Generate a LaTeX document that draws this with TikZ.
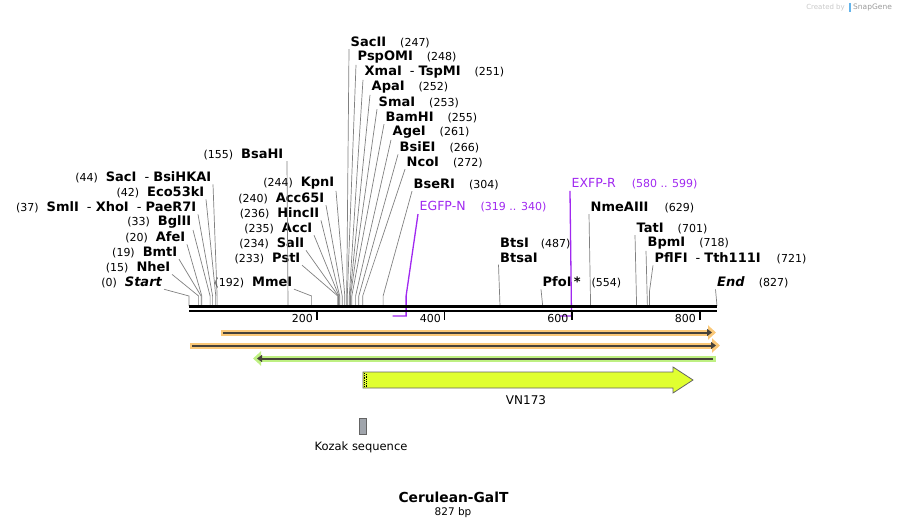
\documentclass[tikz,border=0pt]{standalone}
\usepackage{fontspec}
\setmainfont{DejaVu Sans}
\usetikzlibrary{arrows.meta}

\definecolor{leadgray}{RGB}{128,128,128}
\definecolor{primerpurple}{RGB}{160,40,240}
\definecolor{haloorange}{RGB}{250,200,120}
\definecolor{halogreen}{RGB}{190,240,130}
\definecolor{featdark}{RGB}{70,66,58}
\definecolor{vnyellow}{RGB}{224,255,48}
\definecolor{vnedge}{RGB}{100,100,100}
\definecolor{kozakgray}{RGB}{160,165,172}
\definecolor{creditgray}{RGB}{200,200,200}
\definecolor{creditblue}{RGB}{100,180,235}

\newcommand{\numsz}{\fontsize{11}{13}\selectfont}
\newcommand{\labsz}{\fontsize{13}{15}\selectfont}

\tikzset{
  enzl/.style={anchor=east, inner sep=1.5pt, font=\labsz},
  enzr/.style={anchor=west, inner sep=1.5pt, font=\labsz},
  lead/.style={draw=leadgray, line width=0.7pt},
  primer/.style={draw=primerpurple, line width=1.3pt},
  primtxt/.style={anchor=west, inner sep=1.5pt, font=\fontsize{12.5}{15}\selectfont, text=primerpurple},
}

\begin{document}
\begin{tikzpicture}[x=1pt,y=-1pt]
\useasboundingbox (0,0) rectangle (907,529);

% siti sulla barra
\coordinate (s0) at (189.0,306);
\coordinate (s15) at (198.6,306);
\coordinate (s19) at (201.1,306);
\coordinate (s20) at (201.8,306);
\coordinate (s33) at (210.1,306);
\coordinate (s37) at (212.6,306);
\coordinate (s42) at (215.8,306);
\coordinate (s44) at (217.1,306);
\coordinate (s155) at (288.0,306);
\coordinate (s192) at (311.6,306);
\coordinate (s233) at (337.8,306);
\coordinate (s234) at (338.4,306);
\coordinate (s235) at (339.0,306);
\coordinate (s236) at (339.7,306);
\coordinate (s240) at (342.2,306);
\coordinate (s244) at (344.8,306);
\coordinate (s247) at (346.7,306);
\coordinate (s248) at (347.3,306);
\coordinate (s251) at (349.3,306);
\coordinate (s252) at (349.9,306);
\coordinate (s253) at (350.5,306);
\coordinate (s255) at (351.8,306);
\coordinate (s261) at (355.6,306);
\coordinate (s266) at (358.8,306);
\coordinate (s272) at (362.7,306);
\coordinate (s304) at (383.1,306);
\coordinate (s487) at (500.0,306);
\coordinate (s554) at (542.7,306);
\coordinate (s629) at (590.6,306);
\coordinate (s701) at (636.6,306);
\coordinate (s718) at (647.4,306);
\coordinate (s721) at (649.4,306);
\coordinate (s827) at (717.0,306);
% primer
\coordinate (p319) at (392.7,316);
\coordinate (p340) at (406.1,316);
\coordinate (p580) at (559.3,316);
\coordinate (p599) at (571.5,316);

% etichette a sinistra
\node[enzl] (start) at (164,282) {{\numsz(0)}\hspace{8pt}\textbf{\textit{Start}}};
\node[enzl] (nhei) at (172,267) {{\numsz(15)}\hspace{8pt}\textbf{NheI}};
\node[enzl] (bmti) at (179,252) {{\numsz(19)}\hspace{8pt}\textbf{BmtI}};
\node[enzl] (afei) at (187,237) {{\numsz(20)}\hspace{8pt}\textbf{AfeI}};
\node[enzl] (bglii) at (193,222) {{\numsz(33)}\hspace{8pt}\textbf{BglII}};
\node[enzl] (smli) at (198,207) {{\numsz(37)}\hspace{8pt}\textbf{SmlI}\hspace{8pt}- \textbf{XhoI}\hspace{8pt}- \textbf{PaeR7I}};
\node[enzl] (eco53ki) at (206,192) {{\numsz(42)}\hspace{8pt}\textbf{Eco53kI}};
\node[enzl] (saci) at (213,177) {{\numsz(44)}\hspace{8pt}\textbf{SacI}\hspace{8pt}- \textbf{BsiHKAI}};
\node[enzl] (bsahi) at (285,154) {{\numsz(155)}\hspace{8pt}\textbf{BsaHI}};
\node[enzl] (mmei) at (294,282) {{\numsz(192)}\hspace{8pt}\textbf{MmeI}};
\node[enzl] (psti) at (302,258) {{\numsz(233)}\hspace{8pt}\textbf{PstI}};
\node[enzl] (sali) at (306,243) {{\numsz(234)}\hspace{8pt}\textbf{SalI}};
\node[enzl] (acci) at (314,228) {{\numsz(235)}\hspace{8pt}\textbf{AccI}};
\node[enzl] (hincii) at (321,213) {{\numsz(236)}\hspace{8pt}\textbf{HincII}};
\node[enzl] (acc65i) at (326,198) {{\numsz(240)}\hspace{8pt}\textbf{Acc65I}};
\node[enzl] (kpni) at (336,183) {{\numsz(244)}\hspace{8pt}\textbf{KpnI}};

% etichette a destra
\node[enzr] (sacii) at (349,42) {\textbf{SacII}\hspace{14pt}{\numsz(247)}};
\node[enzr] (pspomi) at (356,57) {\textbf{PspOMI}\hspace{14pt}{\numsz(248)}};
\node[enzr] (xmai) at (363,72) {\textbf{XmaI}\hspace{8pt}- \textbf{TspMI}\hspace{14pt}{\numsz(251)}};
\node[enzr] (apai) at (370,87) {\textbf{ApaI}\hspace{14pt}{\numsz(252)}};
\node[enzr] (smai) at (377,102) {\textbf{SmaI}\hspace{14pt}{\numsz(253)}};
\node[enzr] (bamhi) at (384,117) {\textbf{BamHI}\hspace{14pt}{\numsz(255)}};
\node[enzr] (agei) at (391,132) {\textbf{AgeI}\hspace{14pt}{\numsz(261)}};
\node[enzr] (bsiei) at (398,147) {\textbf{BsiEI}\hspace{14pt}{\numsz(266)}};
\node[enzr] (ncoi) at (405,162) {\textbf{NcoI}\hspace{14pt}{\numsz(272)}};
\node[enzr] (bseri) at (412,184) {\textbf{BseRI}\hspace{14pt}{\numsz(304)}};
\node[enzr] (btsi) at (498.5,243) {\textbf{BtsI}\hspace{12pt}{\numsz(487)}};
\node[enzr] (btsai) at (498.5,258) {\textbf{BtsaI}};
\node[enzr] (pfoi) at (541,282) {\textbf{PfoI\,*}\hspace{11pt}{\numsz(554)}};
\node[enzr] (nmeaiii) at (589,207) {\textbf{NmeAIII}\hspace{16pt}{\numsz(629)}};
\node[enzr] (tati) at (635,228) {\textbf{TatI}\hspace{14pt}{\numsz(701)}};
\node[enzr] (bpmi) at (646,243) {\textbf{BpmI}\hspace{14pt}{\numsz(718)}};
\node[enzr] (pflfi) at (653,258) {\textbf{PflFI}\hspace{8pt}- \textbf{Tth111I}\hspace{16pt}{\numsz(721)}};
\node[enzr] (endl) at (715.5,282) {\textbf{\textit{End}}\hspace{14pt}{\numsz(827)}};

% primer
\node[primtxt] (egfpn) at (418,207) {EGFP-N\hspace{15pt}{\numsz(319 .. 340)}};
\node[primtxt] (exfpr) at (570,184) {EXFP-R\hspace{16pt}{\numsz(580 .. 599)}};

% linee
\draw[lead] (start.south east) -- ([yshift=10pt]s0) -- (s0);
\draw[lead] (nhei.south east) -- ([yshift=10pt]s15) -- (s15);
\draw[lead] (bmti.south east) -- ([yshift=10pt]s19) -- (s19);
\draw[lead] (afei.south east) -- ([yshift=10pt]s20) -- (s20);
\draw[lead] (bglii.south east) -- ([yshift=10pt]s33) -- (s33);
\draw[lead] (smli.south east) -- ([yshift=10pt]s37) -- (s37);
\draw[lead] (eco53ki.south east) -- ([yshift=10pt]s42) -- (s42);
\draw[lead] (saci.south east) -- ([yshift=10pt]s44) -- (s44);
\draw[lead] ([xshift=2pt]bsahi.south east) -- (s155);
\draw[lead] (mmei.south east) -- ([yshift=10pt]s192) -- (s192);
\draw[lead] (psti.south east) -- ([yshift=10pt]s233) -- (s233);
\draw[lead] (sali.south east) -- ([yshift=10pt]s234) -- (s234);
\draw[lead] (acci.south east) -- ([yshift=10pt]s235) -- (s235);
\draw[lead] (hincii.south east) -- ([yshift=10pt]s236) -- (s236);
\draw[lead] (acc65i.south east) -- ([yshift=10pt]s240) -- (s240);
\draw[lead] (kpni.south east) -- ([yshift=10pt]s244) -- (s244);
\draw[lead] (sacii.south west) -- ([yshift=10pt]s247) -- (s247);
\draw[lead] (pspomi.south west) -- ([yshift=10pt]s248) -- (s248);
\draw[lead] (xmai.south west) -- ([yshift=10pt]s251) -- (s251);
\draw[lead] (apai.south west) -- ([yshift=10pt]s252) -- (s252);
\draw[lead] (smai.south west) -- ([yshift=10pt]s253) -- (s253);
\draw[lead] (bamhi.south west) -- ([yshift=10pt]s255) -- (s255);
\draw[lead] (agei.south west) -- ([yshift=10pt]s261) -- (s261);
\draw[lead] (bsiei.south west) -- ([yshift=10pt]s266) -- (s266);
\draw[lead] (ncoi.south west) -- ([yshift=10pt]s272) -- (s272);
\draw[lead] (bseri.south west) -- ([yshift=10pt]s304) -- (s304);
\draw[lead] (btsai.south west) -- (s487);
\draw[lead] (pfoi.south west) -- (s554);
\draw[lead] (nmeaiii.south west) -- (s629);
\draw[lead] (tati.south west) -- (s701);
\draw[lead] (bpmi.south west) -- (s718);
\draw[lead] (pflfi.south west) -- ([yshift=14pt]s721) -- (s721);
\draw[lead] (endl.south west) -- (s827);

\draw[primer] (egfpn.south west) -- ([yshift=20pt]p340) -- (p340) -- (p319);
\draw[primer] (exfpr.south west) -- (p599) -- (p580);

% barra
\draw[line width=2.6pt] (189,306.5) -- (717,306.5);
\draw[line width=2pt] (189,311) -- (717,311);

% tacche
\draw[line width=1.8pt] (316.7,311) -- (316.7,320);
\draw[line width=1.8pt] (444.4,311) -- (444.4,320);
\draw[line width=1.8pt] (572.1,311) -- (572.1,320);
\draw[line width=1.8pt] (699.8,311) -- (699.8,320);
\node[anchor=east, inner sep=1pt, font=\numsz] (t200) at (314,318) {200};
\node[anchor=east, inner sep=1pt, font=\numsz] (t400) at (442,318) {400};
\node[anchor=east, inner sep=1pt, font=\numsz] (t600) at (569.5,318) {600};
\node[anchor=east, inner sep=1pt, font=\numsz] (t800) at (697,318) {800};

% frecce
\draw[haloorange, line width=6pt, -{Triangle[length=8pt, width=14pt]}] (221,332.5) -- (716,332.5);
\draw[featdark, line width=2pt, -{Triangle[length=5pt, width=7pt]}] (223,332.5) -- (712,332.5);
\draw[haloorange, line width=6pt, -{Triangle[length=8pt, width=14pt]}] (190,345.5) -- (720,345.5);
\draw[featdark, line width=2pt, -{Triangle[length=5pt, width=7pt]}] (192,345.5) -- (716,345.5);
\draw[halogreen, line width=6pt, {Triangle[length=8pt, width=14pt]}-] (253,358.5) -- (716,358.5);
\draw[featdark, line width=2pt, {Triangle[length=5pt, width=7pt]}-] (257,358.5) -- (713,358.5);

% VN173
\draw[draw=vnedge, fill=vnyellow, line width=0.8pt] (363,372) -- (673,372) -- (673,367) -- (693,380) -- (673,393) -- (673,388) -- (363,388) -- cycle;
\draw[densely dotted, line width=0.8pt] (364.6,373) -- (364.6,387);
\draw[densely dotted, line width=0.8pt] (366.4,373.8) -- (366.4,387);
\node[font=\fontsize{12}{14}\selectfont, inner sep=1pt] (vnlab) at (526,400.5) {VN173};

% Kozak
\draw[draw=vnedge, fill=kozakgray, line width=0.8pt] (359,418) rectangle (366,434);
\node[font=\fontsize{11.5}{14}\selectfont, inner sep=1pt] (kozlab) at (361,447.5) {Kozak sequence};

% titolo
\node[font=\fontsize{13.8}{16}\selectfont\bfseries, inner sep=1pt] (title) at (453.5,497) {Cerulean-GalT};
\node[font=\fontsize{10.5}{12}\selectfont, inner sep=1pt] (bplen) at (453,512.5) {827 bp};

% credit
\node[anchor=east, font=\fontsize{7}{8}\selectfont, text=creditgray, inner sep=0pt] (credby) at (845,7.5) {Created by};
\fill[creditblue] (848.5,3) rectangle (851,12);
\node[anchor=west, font=\fontsize{7.5}{8}\selectfont, text=leadgray!80, inner sep=0pt] (snapg) at (853,7.5) {SnapGene};

\end{tikzpicture}
\end{document}
